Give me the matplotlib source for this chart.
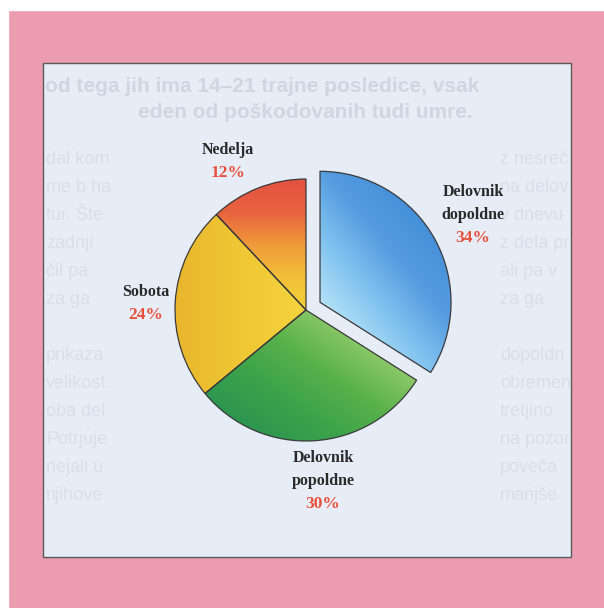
import numpy as np
import matplotlib
matplotlib.use('Agg')
import matplotlib.pyplot as plt
from matplotlib.patches import Rectangle
from matplotlib.colors import LinearSegmentedColormap

# chart data
labels = ['Delovnik\ndopoldne', 'Delovnik\npopoldne', 'Sobota', 'Nedelja']
shares = [34, 30, 24, 12]

# faint text of the scanned page that shows through the chart
page_head = ['od tega jih ima 14–21 trajne posledice, vsak',
             'eden od poškodovanih tudi umre.']
page_left = ['dal kom', 'me b ha', 'tur. Šte', 'zadnji', 'čil pa', 'za ga',
             '', 'prikaza', 'velikost', 'oba del', 'Potrjuje', 'nejali u', 'njihove']
page_right = ['z nesreč', 'na delov', 'v dnevu', 'z dela pr', 'ali pa v', 'za ga',
              '', 'dopoldn', 'obremen', 'tretjino', 'na pozor', 'poveča', 'manjše']

W, H = 604, 608


def fy(y):
    # picture rows are counted from the top
    return H - y


fig = plt.figure(figsize=(W / 100, H / 100), dpi=100)
fig.patch.set_facecolor('#eb9cb0')
ax = fig.add_axes([0, 0, 1, 1])
ax.axis('off')

# scan edges
ax.add_patch(Rectangle((0, fy(10)), W, 10, color='white', zorder=0))
ax.add_patch(Rectangle((0, 0), 8, H, color='white', zorder=0))

panel = Rectangle((43, fy(557)), 528, 494, facecolor='#e7edf6',
                  edgecolor='#5a5a5a', lw=1, zorder=1)
ax.add_patch(panel)

t = ax.text(45, fy(86), page_head[0], fontsize=15, fontweight='bold',
            family='Liberation Sans', color='#cfd6e2', va='center', zorder=1.2)
t.set_clip_path(panel)
ax.text(305, fy(113), page_head[1], fontsize=15, fontweight='bold',
        family='Liberation Sans', color='#cfd6e2', va='center', ha='center', zorder=1.2)
for i, (left, right) in enumerate(zip(page_left, page_right)):
    yy = fy(160 + i * 28)
    ax.text(46, yy, left, fontsize=13, family='Liberation Sans',
            color='#d9dfea', va='center', zorder=1.2)
    t = ax.text(500, yy, right, fontsize=13, family='Liberation Sans',
                color='#d9dfea', va='center', zorder=1.2)
    t.set_clip_path(panel)

cx, cy, r = 306, fy(310), 131
wedges, _ = ax.pie(shares, explode=[16, 0, 0, 0], startangle=90, counterclock=False,
                   center=(cx, cy), radius=r, frame=True,
                   wedgeprops=dict(edgecolor='#3a3a3a', linewidth=0.9))

# gradient fills: direction (deg) in which colours run, colours low -> high
grads = [(40, ['#b3e1f7', '#80c2ef', '#559ce0', '#4690da']),
         (55, ['#2c9650', '#3ca34a', '#58b14a', '#8ac868']),
         (0, ['#e9b62e', '#f0c734', '#f4d43e']),
         (90, ['#f3d03a', '#f2c038', '#f09a3a', '#e8623f', '#e45242'])]

for w, (ang, cols) in zip(wedges, grads):
    wx, wy = w.center
    th = np.radians(np.linspace(w.theta1, w.theta2, 80))
    px = np.concatenate([[wx], wx + w.r * np.cos(th)])
    py = np.concatenate([[wy], wy + w.r * np.sin(th)])
    d = np.array([np.cos(np.radians(ang)), np.sin(np.radians(ang))])
    proj = px * d[0] + py * d[1]
    x0, x1, y0, y1 = px.min(), px.max(), py.min(), py.max()
    X, Y = np.meshgrid(np.linspace(x0, x1, 200), np.linspace(y0, y1, 200))
    T = (X * d[0] + Y * d[1] - proj.min()) / (proj.max() - proj.min())
    cmap = LinearSegmentedColormap.from_list('g', cols)
    im = ax.imshow(T, cmap=cmap, extent=(x0, x1, y0, y1), origin='lower',
                   vmin=0, vmax=1, zorder=2.5, interpolation='bilinear')
    im.set_clip_path(w)
    w.set_facecolor('none')
    w.set_zorder(3)

# label blocks: x centre and top line row
label_pos = [(473, 192), (323, 458), (146, 292), (228, 150)]
for name, val, (lx, ly) in zip(labels, shares, label_pos):
    lines = name.split('\n')
    for i, line in enumerate(lines):
        ax.text(lx, fy(ly + i * 23), line, ha='center', va='center', fontsize=11.5,
                fontweight='bold', family='Liberation Serif', color='#2a2a2a', zorder=4)
    ax.text(lx, fy(ly + len(lines) * 23), '{}%'.format(val), ha='center', va='center',
            fontsize=12.5, fontweight='bold', family='Liberation Serif',
            color='#e8503c', zorder=4)

ax.set_xlim(0, W)
ax.set_ylim(0, H)
ax.set_aspect('auto')

fig.savefig('out.png', dpi=100, facecolor=fig.get_facecolor())
